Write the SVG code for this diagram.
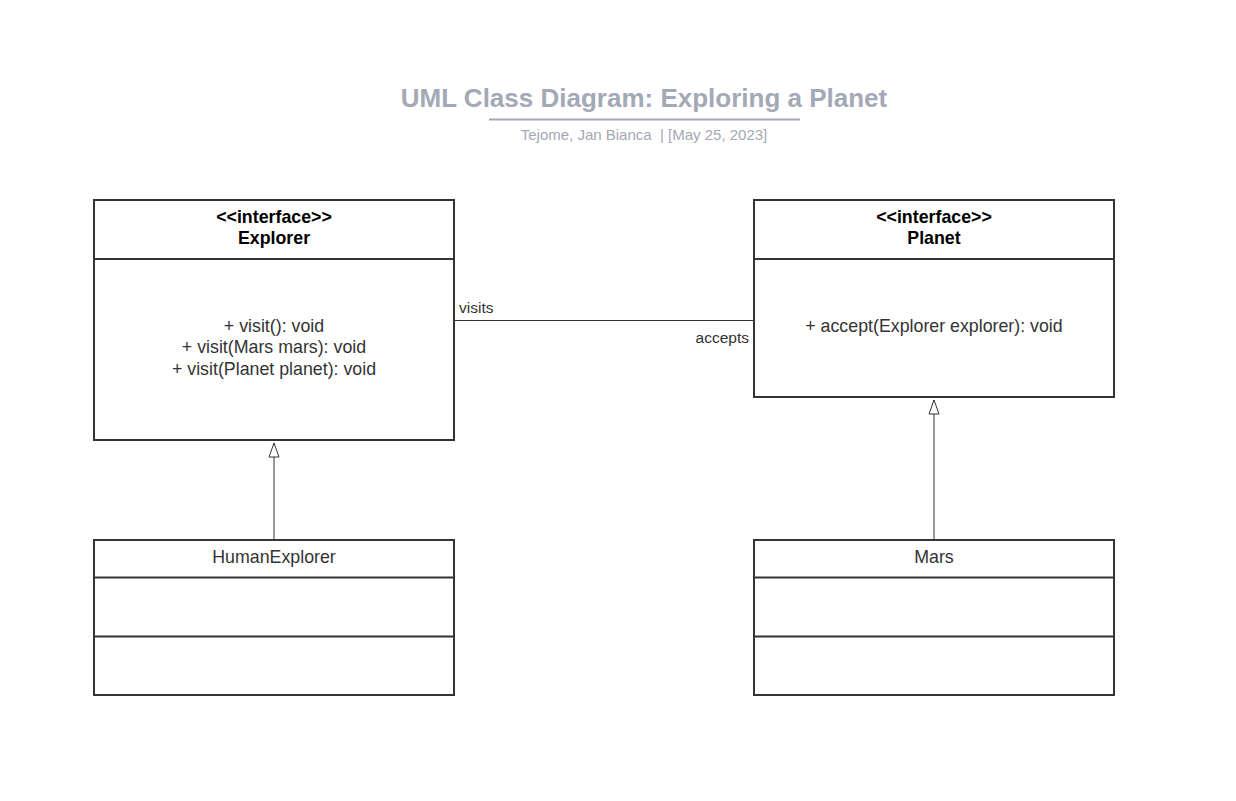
<svg xmlns="http://www.w3.org/2000/svg" width="1236" height="801" viewBox="0 0 1236 801">
<style>
.box{fill:#fff;stroke:#333;stroke-width:2}
.div{stroke:#333;stroke-width:2}
.t{font-family:"Liberation Sans",Arial,sans-serif;font-size:17.8px;fill:#333;text-anchor:middle}
.b{font-family:"Liberation Sans",Arial,sans-serif;font-size:17.8px;font-weight:bold;fill:#000;text-anchor:middle}
.lbl{font-family:"Liberation Sans",Arial,sans-serif;font-size:15.5px;fill:#333}
.conn{stroke:#333;stroke-width:1;fill:none}
</style>
<defs>
<marker id="tri" markerWidth="16" markerHeight="12" refX="15" refY="6" orient="auto" markerUnits="userSpaceOnUse" viewBox="0 0 16 12">
<path d="M15 6 L1 1 L1 11 Z" fill="#fff" stroke="#333" stroke-width="1"/>
</marker>
</defs>
<rect width="1236" height="801" fill="#fff"/>
<g id="title">
<text x="644" y="107" font-family="Liberation Sans,Arial,sans-serif" font-size="26" font-weight="bold" fill="#a3a9b5" text-anchor="middle">UML Class Diagram: Exploring a Planet</text>
<line x1="489" y1="119.5" x2="800" y2="119.5" stroke="#a3a9b5" stroke-width="2"/>
<text x="644" y="140" font-family="Liberation Sans,Arial,sans-serif" font-size="15" fill="#a3a9b5" text-anchor="middle" xml:space="preserve">Tejome, Jan Bianca  | [May 25, 2023]</text>
</g>
<g id="connectors">
<line class="conn" x1="455" y1="320.5" x2="753" y2="320.5"/>
<text class="lbl" x="459" y="313">visits</text>
<text class="lbl" x="749" y="343" text-anchor="end">accepts</text>
<path class="conn" d="M274 539 L274 443" marker-end="url(#tri)"/>
<path class="conn" d="M934 539 L934 400" marker-end="url(#tri)"/>
</g>
<g id="explorer">
<rect class="box" x="94" y="200" width="360" height="240"/>
<line class="div" x1="94" y1="259" x2="454" y2="259"/>
<text class="b" x="274" y="223">&lt;&lt;interface&gt;&gt;</text>
<text class="b" x="274" y="244">Explorer</text>
<text class="t" x="274" y="332">+ visit(): void</text>
<text class="t" x="274" y="353">+ visit(Mars mars): void</text>
<text class="t" x="274" y="375">+ visit(Planet planet): void</text>
</g>
<g id="planet">
<rect class="box" x="754" y="200" width="360" height="197"/>
<line class="div" x1="754" y1="259" x2="1114" y2="259"/>
<text class="b" x="934" y="223">&lt;&lt;interface&gt;&gt;</text>
<text class="b" x="934" y="244">Planet</text>
<text class="t" x="934" y="332">+ accept(Explorer explorer): void</text>
</g>
<g id="humanexplorer">
<rect class="box" x="94" y="540" width="360" height="155"/>
<line class="div" x1="94" y1="577.5" x2="454" y2="577.5"/>
<line class="div" x1="94" y1="636.5" x2="454" y2="636.5"/>
<text class="t" x="274" y="563">HumanExplorer</text>
</g>
<g id="mars">
<rect class="box" x="754" y="540" width="360" height="155"/>
<line class="div" x1="754" y1="577.5" x2="1114" y2="577.5"/>
<line class="div" x1="754" y1="636.5" x2="1114" y2="636.5"/>
<text class="t" x="934" y="563">Mars</text>
</g>
</svg>
